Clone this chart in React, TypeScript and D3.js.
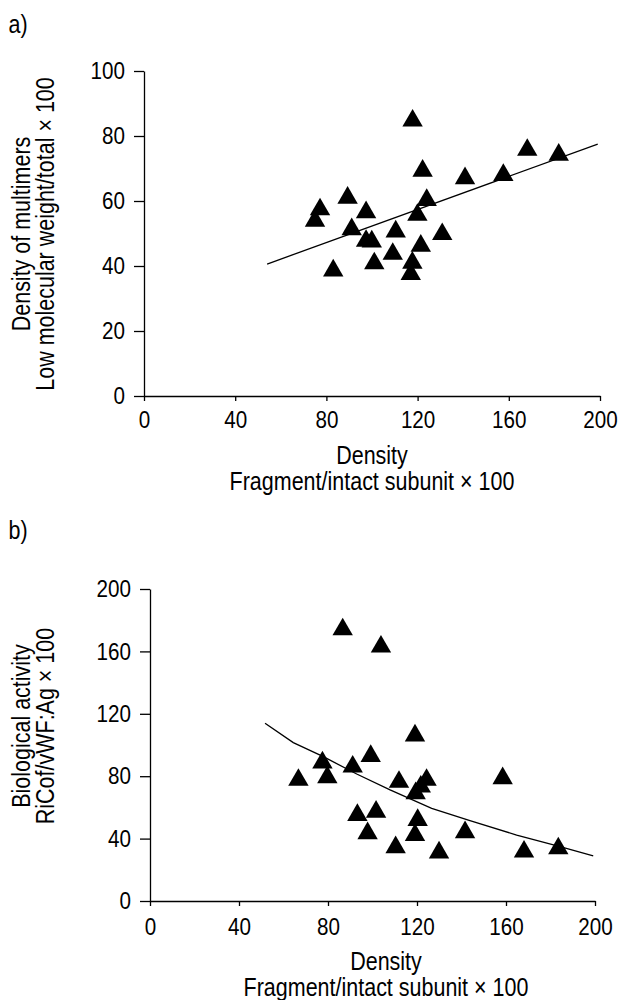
import { useEffect, useRef } from 'react';
import * as d3 from 'd3';

// panel a: density vs low molecular weight multimers
const densityA = [117.8, 168.1, 181.9, 122.2, 140.8, 157.6, 89.3, 124, 77.2, 97.4, 119.9, 75, 91.1, 110.4, 130.8, 97.4, 99.9, 121.4, 109.1, 101, 117.7, 83, 117];
const multimersA = [84.7, 75.7, 74.2, 69.3, 67, 68, 61, 60.3, 57.4, 56.5, 55.7, 53.9, 51.3, 50.6, 49.8, 47.7, 47.5, 46.2, 43.7, 40.8, 41, 38.6, 37.5];
const fitAx = [54, 199];
const fitAy = [40.6, 77.5];

// panel b: density vs biological activity
const densityB = [86.6, 103.8, 119.1, 99.2, 77.5, 91.1, 79.7, 66.7, 124.3, 158.5, 111.9, 121.7, 119.4, 93.2, 101.6, 120.3, 97.8, 119.1, 141.6, 110.4, 129.9, 168.1, 183.5];
const activityB = [174.1, 163, 106, 92.9, 88.7, 86.1, 79.3, 77.6, 77.6, 78.6, 76.3, 73.3, 69, 55.1, 57.2, 51.9, 43.4, 42.3, 44, 34.4, 31, 31.6, 33.7];
const fitBx = [51.7, 64.4, 77.9, 92.9, 107.9, 126.6, 143.8, 164.8, 184.3, 199.2];
const fitBy = [113.9, 101.5, 92.5, 81.4, 71.2, 59.4, 51.5, 42.3, 34.8, 29];

const xTicks = [0, 40, 80, 120, 160, 200];
const yTicksA = [0, 20, 40, 60, 80, 100];
const yTicksB = [0, 40, 80, 120, 160, 200];

const FONT = '"Liberation Sans", Arial, sans-serif';
const SX = 0.86; // the original type is a condensed grotesque

type PanelProps = {
  label: string;
  labelY: number;
  xs: number[];
  ys: number[];
  fitX: number[];
  fitY: number[];
  yMax: number;
  yTicks: number[];
  xRange: [number, number];
  yRange: [number, number];
  xPad: number;
  yTitle: string[];
  yTitleMid: number;
  xTitleX: number;
  xTitleY: number;
};

const Panel = (p: PanelProps) => {
  const xAxisRef = useRef<SVGGElement>(null);
  const yAxisRef = useRef<SVGGElement>(null);

  const x = d3.scaleLinear().domain([0, 200]).range(p.xRange);
  const y = d3.scaleLinear().domain([0, p.yMax]).range(p.yRange);

  useEffect(() => {
    const xa = d3.select(xAxisRef.current!);
    xa.selectAll('*').remove();
    xa.call(d3.axisBottom(x).tickValues(xTicks).tickSize(5).tickSizeOuter(0).tickPadding(p.xPad));
    const ya = d3.select(yAxisRef.current!);
    ya.selectAll('*').remove();
    ya.call(d3.axisLeft(y).tickValues(p.yTicks).tickSize(10).tickSizeOuter(0));
    [xa, ya].forEach((g) => {
      g.selectAll('path,line').attr('stroke', '#000').attr('stroke-width', 1.3);
      g.selectAll('text')
        .attr('fill', '#000')
        .attr('font-size', 24)
        .attr('font-family', FONT)
        .attr('transform', `scale(${SX},1)`);
    });
    ya.selectAll('text').attr('x', -19 / SX);
  });

  const tri = d3.symbol().type(d3.symbolTriangle).size(180);
  const line = d3
    .line<number>()
    .x((d) => x(d))
    .y((_, i) => y(p.fitY[i]));

  return (
    <g>
      <text x={10} y={p.labelY} fontSize={25} fontFamily={FONT} transform={`scale(${SX},1)`}>
        {p.label}
      </text>
      <g ref={xAxisRef} transform={`translate(0,${p.yRange[0]})`} />
      <g ref={yAxisRef} transform={`translate(${p.xRange[0]},0)`} />
      <path d={line(p.fitX) || ''} fill="none" stroke="#000" strokeWidth={1.3} />
      {p.xs.map((v, i) => (
        <path key={i} d={tri() || ''} transform={`translate(${x(v)},${y(p.ys[i])})`} fill="#000" />
      ))}
      <g fontFamily={FONT} fontSize={25} textAnchor="middle">
        <text transform={`translate(${p.xTitleX},${p.xTitleY}) scale(${SX},1)`}>Density</text>
        <text transform={`translate(${p.xTitleX},${p.xTitleY + 26}) scale(${SX},1)`}>
          Fragment/intact subunit × 100
        </text>
        {p.yTitle.map((t, i) => (
          <text key={t} transform={`translate(${30 + i * 24},${p.yTitleMid}) rotate(-90) scale(${SX},1)`}>
            {t}
          </text>
        ))}
      </g>
    </g>
  );
};

const App = () => {
  return (
    <svg width={618} height={1000} style={{ position: 'absolute', left: 0, top: 0, background: '#fff' }}>
      <Panel
        label="a)"
        labelY={33}
        xs={densityA}
        ys={multimersA}
        fitX={fitAx}
        fitY={fitAy}
        yMax={100}
        yTicks={yTicksA}
        xRange={[144, 600]}
        yRange={[396, 71]}
        xPad={10}
        yTitle={['Density of multimers', 'Low molecular weight/total × 100']}
        yTitleMid={234}
        xTitleX={372}
        xTitleY={464}
      />
      <Panel
        label="b)"
        labelY={539}
        xs={densityB}
        ys={activityB}
        fitX={fitBx}
        fitY={fitBy}
        yMax={200}
        yTicks={yTicksB}
        xRange={[150, 595]}
        yRange={[901, 589]}
        xPad={12}
        yTitle={['Biological activity', 'RiCof/vWF:Ag × 100']}
        yTitleMid={726}
        xTitleX={386}
        xTitleY={970}
      />
    </svg>
  );
};

export default App;
